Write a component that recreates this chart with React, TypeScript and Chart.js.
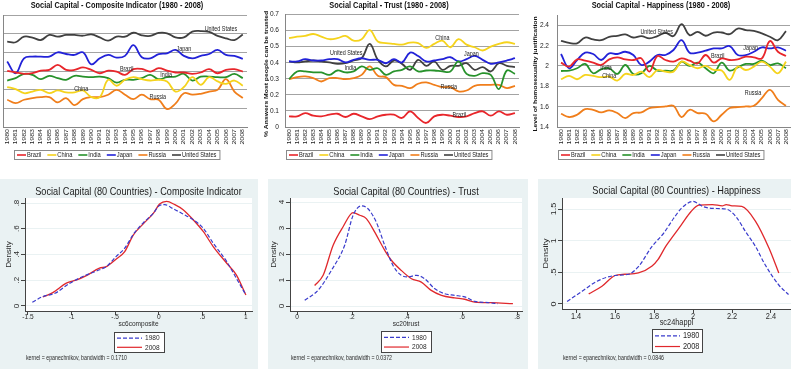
import React, { useEffect, useRef } from "react";
import { Chart, registerables } from "chart.js";
Chart.register(...registerables);

const FONT = '"Liberation Sans", Arial, Helvetica, sans-serif';
const SX = 0.82;

// ---------- categories ----------
const years = ["1980","1981","1982","1983","1984","1985","1986","1987","1988","1989","1990","1991","1992","1993","1994","1995","1996","1997","1998","1999","2000","2001","2002","2003","2004","2005","2006","2007","2008"];
const countries = ["Brazil","China","India","Japan","Russia","United States"];
const countryColors = ["#e8262b","#f5d31c","#27922b","#2222d8","#f07e1b","#404040"];

// ---------- composite indicator (grid units) ----------
const compBrazil = [3.01,2.92,2.85,2.88,3.02,3.06,3.33,3.06,3.06,3.19,3.06,2.88,3.02,2.97,2.79,3.10,3.11,2.97,3.15,3.02,2.92,2.92,2.85,2.92,3.10,2.88,3.06,3.10,2.97];
const compChina = [2.14,2.03,1.81,1.90,1.99,1.81,1.96,1.85,1.85,1.96,1.60,1.60,2.53,2.21,2.53,2.67,2.56,2.49,2.53,2.44,1.90,2.14,2.67,2.26,2.67,2.44,2.31,2.49,2.21];
const compIndia = [2.49,2.62,2.85,2.79,2.56,2.74,2.62,2.53,2.74,2.70,2.67,2.70,2.62,2.38,2.53,2.53,2.62,2.79,2.56,2.67,2.70,2.85,2.49,2.70,2.70,2.67,2.67,2.85,2.62];
const compJapan = [3.51,2.88,3.68,3.77,3.77,3.77,4.00,3.91,3.86,4.00,3.36,3.68,3.86,3.72,3.81,4.39,3.74,3.68,3.90,3.95,4.13,3.81,3.68,3.81,3.91,4.13,3.86,3.81,3.65];
const compRussia = [1.46,1.28,1.46,1.55,1.60,1.60,1.32,1.55,1.17,1.49,1.60,1.60,1.73,1.99,1.73,1.49,1.73,1.49,1.46,0.96,1.25,1.81,1.73,1.78,1.90,1.99,2.56,1.90,1.55];
const compUS = [4.57,4.54,4.84,4.79,4.66,4.93,4.84,4.93,4.93,4.89,4.96,4.80,4.63,4.84,4.84,5.05,4.91,4.88,5.04,5.02,4.80,4.80,5.11,5.14,5.09,4.88,4.75,4.66,4.95];
const compTicks = [0,1,2,3,4,5,6];
const compLabelIdx = [14.2, 8.8, 18.9, 21.0, 17.9, 25.4];
const compLabelVal = [3.11, 2.04, 2.79, 4.18, 1.61, 5.25];

// ---------- trust ----------
const trustBrazil = [0.066,0.066,0.086,0.070,0.066,0.076,0.082,0.062,0.082,0.066,0.049,0.066,0.076,0.076,0.056,0.097,0.056,0.025,0.066,0.076,0.070,0.062,0.066,0.086,0.097,0.070,0.097,0.076,0.086];
const trustChina = [0.55,0.56,0.564,0.576,0.56,0.544,0.55,0.564,0.535,0.544,0.60,0.53,0.52,0.515,0.51,0.523,0.52,0.49,0.515,0.535,0.494,0.544,0.51,0.494,0.474,0.498,0.515,0.525,0.515];
const trustIndia = [0.296,0.344,0.344,0.338,0.338,0.323,0.35,0.338,0.344,0.375,0.354,0.364,0.323,0.344,0.354,0.375,0.344,0.35,0.35,0.344,0.344,0.406,0.329,0.317,0.334,0.323,0.235,0.35,0.329];
const trustJapan = [0.406,0.406,0.42,0.412,0.412,0.42,0.42,0.40,0.416,0.426,0.416,0.416,0.395,0.42,0.40,0.461,0.44,0.406,0.412,0.42,0.432,0.406,0.42,0.44,0.416,0.391,0.40,0.412,0.426];
const trustRussia = [0.296,0.309,0.313,0.303,0.282,0.303,0.303,0.296,0.303,0.323,0.375,0.317,0.309,0.261,0.255,0.241,0.268,0.276,0.261,0.247,0.247,0.22,0.226,0.255,0.261,0.261,0.261,0.241,0.255];
const trustUS = [0.406,0.40,0.406,0.412,0.406,0.40,0.391,0.395,0.412,0.426,0.515,0.416,0.375,0.412,0.391,0.354,0.416,0.379,0.406,0.354,0.379,0.379,0.395,0.354,0.371,0.344,0.395,0.379,0.371];
const trustTicks = [0,0.1,0.2,0.3,0.4,0.5,0.6,0.7];
const trustLabelIdx = [21.1, 19.0, 7.6, 22.6, 19.8, 7.1];
const trustLabelVal = [0.074, 0.551, 0.366, 0.452, 0.248, 0.458];

// ---------- happiness ----------
const hapBrazil = [2.032,1.993,2.064,2.051,2.032,2.009,2.064,2.084,2.064,2.058,2.074,1.944,2.097,2.058,2.042,2.074,2.051,2.025,2.107,2.032,2.074,2.058,2.064,2.091,2.084,2.074,2.244,2.139,2.097];
const hapChina = [1.869,1.902,1.869,1.911,1.902,1.889,1.895,1.856,1.921,1.911,1.944,1.889,1.96,1.944,1.944,2.042,2.009,1.977,2.0,1.96,1.954,1.863,1.993,1.96,1.993,2.042,1.993,1.928,2.042];
const hapIndia = [1.95,1.954,1.977,2.019,1.928,1.967,1.977,1.921,2.009,1.921,1.928,2.0,1.954,1.954,1.954,2.042,2.0,2.032,1.977,1.928,2.032,1.954,1.986,2.019,2.019,2.051,2.009,2.025,1.977];
const hapJapan = [2.117,1.977,2.058,2.13,2.117,2.058,2.123,2.117,2.139,2.107,2.009,2.042,2.107,2.107,2.156,2.253,2.13,2.13,2.149,2.172,2.172,2.195,2.107,2.107,2.139,2.182,2.172,2.182,2.149];
const hapRussia = [1.53,1.498,1.52,1.576,1.569,1.543,1.563,1.537,1.488,1.537,1.543,1.586,1.595,1.602,1.608,1.498,1.569,1.537,1.53,1.455,1.52,1.586,1.595,1.602,1.608,1.683,1.765,1.667,1.608];
const hapUS = [2.247,2.227,2.221,2.279,2.26,2.253,2.286,2.296,2.309,2.279,2.293,2.27,2.293,2.325,2.293,2.41,2.302,2.335,2.296,2.328,2.328,2.312,2.367,2.351,2.345,2.319,2.286,2.253,2.341];
const hapTicks = [1.4,1.6,1.8,2.0,2.2,2.4];
const hapLabelIdx = [19.5, 6.0, 5.6, 23.6, 23.9, 11.9];
const hapLabelVal = [2.096, 1.90, 1.978, 2.175, 1.733, 2.33];

// ---------- densities ----------
const densityLegend = ["1980","2008"];
const comp1980X = [-1.45,-1.33,-1.19,-1.02,-0.87,-0.68,-0.60,-0.49,-0.39,-0.29,-0.18,-0.06,0.005,0.07,0.165,0.28,0.395,0.51,0.625,0.78,0.89,1.0];
const comp1980Y = [0.029,0.073,0.099,0.177,0.229,0.281,0.306,0.384,0.449,0.558,0.644,0.722,0.779,0.787,0.756,0.714,0.670,0.605,0.488,0.345,0.216,0.086];
const comp2008X = [-1.33,-1.21,-1.06,-0.94,-0.83,-0.68,-0.60,-0.50,-0.39,-0.29,-0.18,-0.06,0.01,0.09,0.185,0.28,0.395,0.51,0.625,0.78,0.89,1.0];
const comp2008Y = [0.07,0.106,0.177,0.203,0.236,0.294,0.306,0.358,0.423,0.553,0.636,0.722,0.792,0.813,0.787,0.748,0.670,0.579,0.462,0.332,0.242,0.086];
const compXTicks = [-1.5,-1,-0.5,0,0.5,1];
const compYTicks = [0,0.2,0.4,0.6,0.8];

const trust1980X = [0.028,0.076,0.125,0.173,0.204,0.234,0.258,0.288,0.319,0.349,0.379,0.404,0.434,0.464,0.50,0.537,0.573,0.61,0.646,0.695,0.73];
const trust1980Y = [0.22,0.60,1.37,2.33,3.49,3.85,3.74,3.23,2.33,1.56,1.18,1.12,1.18,1.05,0.67,0.47,0.41,0.35,0.18,0.13,0.09];
const trust2008X = [0.064,0.095,0.131,0.167,0.204,0.228,0.252,0.282,0.319,0.343,0.379,0.416,0.452,0.488,0.525,0.573,0.61,0.646,0.707,0.785];
const trust2008Y = [0.79,1.18,2.33,3.04,3.59,3.49,3.36,2.85,2.14,1.76,1.37,1.05,0.92,0.60,0.41,0.31,0.26,0.15,0.13,0.09];
const trustXTicks = [0,0.2,0.4,0.6,0.8];
const trustYTicks = [0,1,2,3,4];

const hap1980X = [1.354,1.431,1.508,1.60,1.67,1.72,1.79,1.85,1.90,1.94,2.0,2.05,2.10,2.17,2.22,2.27,2.32,2.37,2.44,2.49];
const hap1980Y = [0.04,0.20,0.36,0.45,0.47,0.59,0.91,1.12,1.35,1.51,1.62,1.54,1.51,1.50,1.38,1.14,0.91,0.62,0.30,0.15];
const hap2008X = [1.465,1.533,1.60,1.65,1.72,1.79,1.82,1.86,1.89,1.94,1.99,2.03,2.10,2.15,2.17,2.20,2.25,2.32,2.39,2.44];
const hap2008Y = [0.16,0.28,0.45,0.47,0.49,0.60,0.70,0.91,1.04,1.25,1.46,1.56,1.57,1.55,1.57,1.55,1.54,1.31,0.88,0.49];
const hapXTicks = [1.4,1.6,1.8,2.0,2.2,2.4];
const hapYTicks = [0,0.5,1,1.5];

// ---------- helpers ----------
type TOpt = { bold?: boolean; color?: string; align?: CanvasTextAlign; base?: CanvasTextBaseline; rot?: number; sx?: number };
function drawText(ctx: CanvasRenderingContext2D, s: string, x: number, y: number, size: number, o: TOpt = {}) {
  ctx.save();
  ctx.translate(x, y);
  ctx.scale(o.sx ?? SX, 1);
  if (o.rot) ctx.rotate(o.rot);
  ctx.font = `${o.bold ? "bold " : ""}${size}px ${FONT}`;
  ctx.fillStyle = o.color ?? "#222";
  ctx.textAlign = o.align ?? "center";
  ctx.textBaseline = o.base ?? "middle";
  ctx.fillText(s, 0, 0);
  ctx.restore();
}
function stataFmt(v: number) {
  let s = String(Math.round(v * 1000) / 1000);
  s = s.replace(/^0\./, ".").replace(/^-0\./, "-.");
  return s;
}

type TopSpec = {
  W: number; H: number; area: { l: number; r: number; t: number; b: number };
  title: string; centerX: number; series: number[][]; yMin: number; yMax: number; yTicks: number[];
  yLabelX?: number; yTitle?: string; yTitleX?: number; yTitleY?: number;
  labelIdx: number[]; labelVal: number[];
};

function buildTop(canvas: HTMLCanvasElement, sp: TopSpec) {
  const decor = {
    id: "decorTop",
    afterDraw(chart: any) {
      const ctx: CanvasRenderingContext2D = chart.ctx;
      const xs = chart.scales.x, ys = chart.scales.y;
      drawText(ctx, sp.title, sp.centerX, 6, 9, { bold: true, color: "#111" });
      years.forEach((y, i) => {
        drawText(ctx, y, xs.getPixelForValue(i), sp.area.b + 2, 7, { rot: -Math.PI / 2, align: "right", color: "#222" });
      });
      if (sp.yLabelX !== undefined) {
        sp.yTicks.forEach((v) => {
          drawText(ctx, String(Math.round(v * 100) / 100), sp.yLabelX!, ys.getPixelForValue(v), 8, { align: "right", color: "#222" });
        });
      }
      if (sp.yTitle) drawText(ctx, sp.yTitle, sp.yTitleX!, sp.yTitleY!, 6.8, { bold: true, rot: -Math.PI / 2, color: "#111" });
      countries.forEach((c, k) => {
        drawText(ctx, c, xs.getPixelForValue(sp.labelIdx[k]), ys.getPixelForValue(sp.labelVal[k]), 6.6, { color: "#222" });
      });
      // legend
      ctx.save();
      ctx.font = `7px ${FONT}`;
      const widths = countries.map((c) => ctx.measureText(c).width * SX);
      const lineW = 9, gapLT = 1, gapItem = 6, pad = 3;
      const total = widths.reduce((a, w) => a + lineW + gapLT + w, 0) + gapItem * (countries.length - 1) + pad * 2;
      const left = Math.round(sp.centerX - total / 2), top = 150, h = 9;
      ctx.fillStyle = "#fff";
      ctx.fillRect(left, top, total, h);
      ctx.strokeStyle = "#8a8a8a";
      ctx.lineWidth = 1;
      ctx.strokeRect(left + 0.5, top + 0.5, total, h);
      let x = left + pad;
      countries.forEach((c, k) => {
        ctx.strokeStyle = countryColors[k];
        ctx.lineWidth = 1.6;
        ctx.beginPath();
        ctx.moveTo(x, top + h / 2 + 0.5);
        ctx.lineTo(x + lineW, top + h / 2 + 0.5);
        ctx.stroke();
        drawText(ctx, c, x + lineW + gapLT, top + h / 2 + 0.5, 7, { align: "left", color: "#222" });
        x += lineW + gapLT + widths[k] + gapItem;
      });
      ctx.restore();
    },
  };
  return new Chart(canvas, {
    type: "line",
    data: {
      labels: years,
      datasets: countries.map((c, k) => ({
        label: c, data: sp.series[k], borderColor: countryColors[k], backgroundColor: countryColors[k],
        borderWidth: 1.8, pointRadius: 0, tension: 0.4, fill: false,
      })),
    },
    options: {
      responsive: false, animation: false, events: [],
      layout: { padding: { left: sp.area.l - 1, top: sp.area.t, right: sp.W - sp.area.r, bottom: sp.H - sp.area.b - 20 } },
      plugins: { legend: { display: false }, title: { display: false }, tooltip: { enabled: false } },
      scales: {
        x: {
          type: "category", offset: true,
          grid: { display: false }, border: { display: true, color: "#868686" },
          ticks: { display: false },
          afterFit: (s: any) => { s.height = 20; },
        },
        y: {
          type: "linear", min: sp.yMin, max: sp.yMax,
          afterBuildTicks: (s: any) => { s.ticks = sp.yTicks.map((v) => ({ value: v })); },
          ticks: { display: false },
          grid: { color: "#a3a3a3", drawTicks: false, lineWidth: 1 },
          border: { display: true, color: "#868686" },
          afterFit: (s: any) => { s.width = 1; },
        },
      },
    } as any,
    plugins: [decor],
  });
}

type BotSpec = {
  W: number; H: number; area: { l: number; r: number; t: number; b: number };
  title: string; xTitle: string; note: string;
  xMin: number; xMax: number; xTicks: number[]; yMin: number; yMax: number; yTicks: number[];
  d1980: [number[], number[]]; d2008: [number[], number[]];
  tickFont: number; titleY: number; xLabY: number; xTitleY: number; legTop: number; legH: number; noteY: number;
};

const BLUE = "#3a3ccc";
const RED = "#e0282c";
const PANEL = "#eaf2f3";

function buildBottom(canvas: HTMLCanvasElement, sp: BotSpec) {
  const bg = {
    id: "bgBottom",
    beforeDraw(chart: any) {
      const ctx = chart.ctx, a = chart.chartArea;
      ctx.save();
      ctx.fillStyle = PANEL;
      ctx.fillRect(0, 0, chart.width, chart.height);
      ctx.fillStyle = "#fff";
      ctx.fillRect(a.left, a.top, a.right - a.left, a.bottom - a.top);
      ctx.restore();
    },
  };
  const decor = {
    id: "decorBottom",
    afterDraw(chart: any) {
      const ctx: CanvasRenderingContext2D = chart.ctx;
      const a = chart.chartArea, xs = chart.scales.x, ys = chart.scales.y;
      const cx = (a.left + a.right) / 2;
      drawText(ctx, sp.title, cx, sp.titleY, 11.2, { color: "#1c1c1c" });
      sp.xTicks.forEach((v) => drawText(ctx, stataFmt(v), xs.getPixelForValue(v), sp.xLabY, sp.tickFont, { color: "#2a2a2a" }));
      sp.yTicks.forEach((v) => drawText(ctx, stataFmt(v), a.left - 8, ys.getPixelForValue(v), sp.tickFont, { rot: -Math.PI / 2, color: "#2a2a2a" }));
      drawText(ctx, sp.xTitle, cx, sp.xTitleY, sp.tickFont, { color: "#2a2a2a" });
      drawText(ctx, "Density", a.left - 16, (a.top + a.bottom) / 2, sp.tickFont, { rot: -Math.PI / 2, color: "#2a2a2a" });
      // legend
      const bw = 50, left = Math.round(cx - bw / 2), top = sp.legTop, h = sp.legH;
      ctx.save();
      ctx.fillStyle = "#fff";
      ctx.fillRect(left, top, bw, h);
      ctx.strokeStyle = "#444";
      ctx.lineWidth = 1;
      ctx.strokeRect(left + 0.5, top + 0.5, bw, h);
      const y1 = top + h * 0.28 + 0.5, y2 = top + h * 0.74 + 0.5;
      ctx.lineWidth = 1.2;
      ctx.strokeStyle = BLUE;
      ctx.setLineDash([4, 2]);
      ctx.beginPath(); ctx.moveTo(left + 3, y1); ctx.lineTo(left + 28, y1); ctx.stroke();
      ctx.setLineDash([]);
      ctx.strokeStyle = RED;
      ctx.beginPath(); ctx.moveTo(left + 3, y2); ctx.lineTo(left + 28, y2); ctx.stroke();
      ctx.restore();
      drawText(ctx, densityLegend[0], left + 31, y1, sp.tickFont, { align: "left", color: "#2a2a2a" });
      drawText(ctx, densityLegend[1], left + 31, y2, sp.tickFont, { align: "left", color: "#2a2a2a" });
      drawText(ctx, sp.note, a.left + 1, sp.noteY, 6.4, { align: "left", color: "#2a2a2a" });
    },
  };
  const pts = (d: [number[], number[]]) => d[0].map((x, i) => ({ x, y: d[1][i] }));
  return new Chart(canvas, {
    type: "line",
    data: {
      datasets: [
        { label: densityLegend[0], data: pts(sp.d1980), borderColor: BLUE, borderDash: [4, 2], borderWidth: 1.2, pointRadius: 0, cubicInterpolationMode: "monotone", fill: false },
        { label: densityLegend[1], data: pts(sp.d2008), borderColor: RED, borderWidth: 1.3, pointRadius: 0, cubicInterpolationMode: "monotone", fill: false },
      ],
    },
    options: {
      responsive: false, animation: false, events: [],
      layout: { padding: { left: 0, top: sp.area.t, right: sp.W - sp.area.r, bottom: sp.H - sp.area.b - 20 } },
      plugins: { legend: { display: false }, title: { display: false }, tooltip: { enabled: false } },
      scales: {
        x: {
          type: "linear", min: sp.xMin, max: sp.xMax,
          afterBuildTicks: (s: any) => { s.ticks = sp.xTicks.map((v) => ({ value: v })); },
          ticks: { display: false },
          grid: { display: true, drawOnChartArea: false, drawTicks: true, tickLength: 4, tickColor: "#444" },
          border: { display: true, color: "#444" },
          afterFit: (s: any) => { s.height = 20; },
        },
        y: {
          type: "linear", min: sp.yMin, max: sp.yMax,
          afterBuildTicks: (s: any) => { s.ticks = sp.yTicks.map((v) => ({ value: v })); },
          ticks: { display: false },
          grid: { color: PANEL, lineWidth: 1, drawTicks: true, tickLength: 4, tickColor: "#444" },
          border: { display: true, color: "#444" },
          afterFit: (s: any) => { s.width = sp.area.l; },
        },
      },
    } as any,
    plugins: [bg, decor],
  });
}

function Panel(props: { left: number; top: number; width: number; height: number; build: (c: HTMLCanvasElement) => Chart }) {
  const ref = useRef<HTMLCanvasElement>(null);
  useEffect(() => {
    const ch = props.build(ref.current!);
    return () => ch.destroy();
  }, []);
  return (
    <canvas ref={ref} width={props.width} height={props.height}
      style={{ position: "absolute", left: props.left, top: props.top, width: props.width, height: props.height }} />
  );
}

export default function App() {
  return (
    <div style={{ position: "absolute", left: 0, top: 0, width: 791, height: 371, background: "#fff", overflow: "hidden" }}>
      <Panel left={0} top={0} width={258} height={162} build={(c) => buildTop(c, {
        W: 258, H: 162, area: { l: 3, r: 247, t: 15, b: 127 },
        title: "Social Capital - Composite Indicator (1980 - 2008)", centerX: 117,
        series: [compBrazil, compChina, compIndia, compJapan, compRussia, compUS],
        yMin: 0, yMax: 6, yTicks: compTicks, labelIdx: compLabelIdx, labelVal: compLabelVal,
      })} />
      <Panel left={258} top={0} width={264} height={162} build={(c) => buildTop(c, {
        W: 264, H: 162, area: { l: 27, r: 261, t: 14, b: 127 },
        title: "Social Capital - Trust (1980 - 2008)", centerX: 131,
        series: [trustBrazil, trustChina, trustIndia, trustJapan, trustRussia, trustUS],
        yMin: 0, yMax: 0.7, yTicks: trustTicks, yLabelX: 21,
        yTitle: "% Answers Most people can be trusted", yTitleX: 8, yTitleY: 74,
        labelIdx: trustLabelIdx, labelVal: trustLabelVal,
      })} />
      <Panel left={525} top={0} width={266} height={162} build={(c) => buildTop(c, {
        W: 266, H: 162, area: { l: 32, r: 265, t: 15, b: 127 },
        title: "Social Capital - Happiness (1980 - 2008)", centerX: 136,
        series: [hapBrazil, hapChina, hapIndia, hapJapan, hapRussia, hapUS],
        yMin: 1.4, yMax: 2.5, yTicks: hapTicks, yLabelX: 24,
        yTitle: "Level of homosexuality justification", yTitleX: 10, yTitleY: 74,
        labelIdx: hapLabelIdx, labelVal: hapLabelVal,
      })} />
      <Panel left={0} top={179} width={258} height={190} build={(c) => buildBottom(c, {
        W: 258, H: 190, area: { l: 25, r: 252, t: 19, b: 132 },
        title: "Social Capital (80 Countries) - Composite Indicator", xTitle: "sc6composite",
        note: "kernel = epanechnikov, bandwidth = 0.1710",
        xMin: -1.534, xMax: 1.07, xTicks: compXTicks, yMin: -0.039, yMax: 0.839, yTicks: compYTicks,
        d1980: [comp1980X, comp1980Y], d2008: [comp2008X, comp2008Y],
        tickFont: 8, titleY: 13, xLabY: 138, xTitleY: 145, legTop: 153, legH: 20, noteY: 179,
      })} />
      <Panel left={268} top={179} width={260} height={190} build={(c) => buildBottom(c, {
        W: 260, H: 190, area: { l: 22, r: 254, t: 19, b: 132 },
        title: "Social Capital (80 Countries) - Trust", xTitle: "sc20trust",
        note: "kernel = epanechnikov, bandwidth = 0.0372",
        xMin: -0.0255, xMax: 0.818, xTicks: trustXTicks, yMin: -0.192, yMax: 4.154, yTicks: trustYTicks,
        d1980: [trust1980X, trust1980Y], d2008: [trust2008X, trust2008Y],
        tickFont: 8, titleY: 13, xLabY: 138, xTitleY: 145, legTop: 152, legH: 21, noteY: 179,
      })} />
      <Panel left={538} top={179} width={253} height={190} build={(c) => buildBottom(c, {
        W: 253, H: 190, area: { l: 24, r: 253, t: 19, b: 130 },
        title: "Social Capital (80 Countries) - Happiness", xTitle: "sc24happl",
        note: "kernel = epanechnikov, bandwidth = 0.0846",
        xMin: 1.328, xMax: 2.5026, xTicks: hapXTicks, yMin: -0.079, yMax: 1.674, yTicks: hapYTicks,
        d1980: [hap1980X, hap1980Y], d2008: [hap2008X, hap2008Y],
        tickFont: 9, titleY: 12, xLabY: 138, xTitleY: 144, legTop: 150, legH: 23, noteY: 179,
      })} />
    </div>
  );
}
